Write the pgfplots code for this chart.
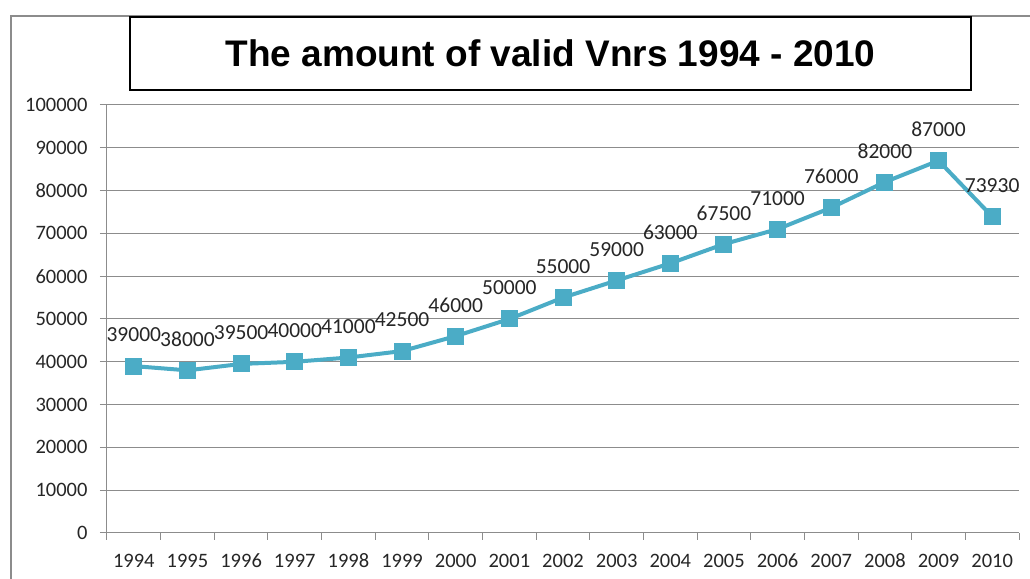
\documentclass[border=0pt]{standalone}
\usepackage{pgfplots}
\pgfplotsset{compat=1.18}
\usepackage{fontspec}
\setmainfont{Carlito}
\newfontfamily\arialb{Liberation Sans}
\definecolor{ln}{HTML}{4BACC6}
\definecolor{gr}{HTML}{8C8C8C}
\begin{document}
\begin{tikzpicture}[x=1pt,y=1pt]
\useasboundingbox (0,0) rectangle (1030,578);
\draw[gr, line width=2pt] (11,-20) -- (11,562) -- (1060,562);
\draw[black, line width=2pt] (130,488) rectangle (971,561);
\node[font=\arialb\bfseries\fontsize{37}{42}\selectfont] at (550.5,524.5) {The amount of valid Vnrs 1994 - 2010};
\begin{axis}[at={(107pt,45pt)}, anchor=south west, scale only axis, width=912pt, height=428pt,
 xmin=-0.5, xmax=16.5, ymin=0, ymax=100000,
 ytick={0,10000,...,100000},
 ymajorgrids, grid style={gr, line width=1pt},
 axis lines*=left, axis line style={gr, line width=1pt},
 xtick={0,...,16},
 xticklabels={1994,1995,1996,1997,1998,1999,2000,2001,2002,2003,2004,2005,2006,2007,2008,2009,2010},
 major x tick style={draw=none},
 minor xtick={-0.5,0.5,...,16.5},
 minor tick length=7pt, major tick length=7pt,
 tick align=outside, tick style={gr, line width=1pt},
 /pgf/number format/.cd, fixed, precision=0, 1000 sep={}, assume math mode=true, /pgfplots/.cd,
 ticklabel style={font=\fontsize{20.5}{24}\selectfont, text=black!85},
 xticklabel style={text height=13pt, text depth=0pt, yshift=-11pt},
 yticklabel style={xshift=-9pt},
 scaled y ticks=false,
 clip=false,
 nodes near coords,
 nodes near coords style={font=\fontsize{21.5}{25}\selectfont, text=black!85, anchor=center, yshift=31pt},
]
\addplot[ln, line width=4pt, line join=round, mark=square*, mark size=8pt, mark options={fill=ln, draw=ln, line width=0pt}] coordinates {
(0,39000) (1,38000) (2,39500) (3,40000) (4,41000) (5,42500) (6,46000) (7,50000) (8,55000) (9,59000) (10,63000) (11,67500) (12,71000) (13,76000) (14,82000) (15,87000) (16,73930)
};
\end{axis}
\end{tikzpicture}
\end{document}
